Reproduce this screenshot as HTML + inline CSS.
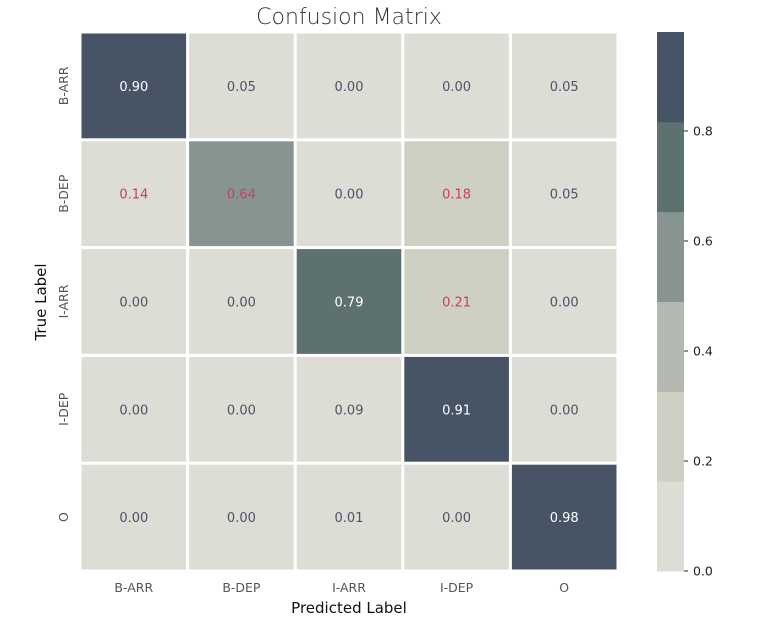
<!DOCTYPE html>
<html><head><meta charset="utf-8"><style>
body{margin:0;background:#fff;font-family:"DejaVu Sans","Liberation Sans",sans-serif}
</style></head><body>
<svg id="chart" width="760" height="632" xmlns="http://www.w3.org/2000/svg"></svg>
<script>
const rowLabels = ["B-ARR","B-DEP","I-ARR","I-DEP","O"];
const colLabels = ["B-ARR","B-DEP","I-ARR","I-DEP","O"];
const values = [
 [0.90,0.05,0.00,0.00,0.05],
 [0.14,0.64,0.00,0.18,0.05],
 [0.00,0.00,0.79,0.21,0.00],
 [0.00,0.00,0.09,0.91,0.00],
 [0.00,0.00,0.01,0.00,0.98]
];
const cbTicks = [0.0,0.2,0.4,0.6,0.8];
const palette = ["#dddcd5","#cfd0c4","#b3b8b0","#879492","#5d716e","#475465"];
const vmin = 0, vmax = 0.98;

const svg = document.getElementById('chart');
const NS = "http://www.w3.org/2000/svg";
function mk(tag, attrs, text){const e=document.createElementNS(NS,tag);for(const k in attrs)e.setAttribute(k,attrs[k]);if(text!==undefined)e.textContent=text;svg.appendChild(e);return e;}
const X0=80,Y0=32,W=538,H=539;
const cw=W/colLabels.length, ch=H/rowLabels.length;
const xPos=i=>X0+i*cw, yPos=i=>Y0+i*ch;
function colorOf(v){let b=Math.floor((v-vmin)/(vmax-vmin)*palette.length);return palette[Math.max(0,Math.min(palette.length-1,b))];}
function textColor(v){if(v>=0.7)return "#ffffff";if(v>=0.1)return "#cc3d66";return "#4a5568";}

const title=mk('text',{x:349,y:24,'text-anchor':'middle','font-size':22,fill:'#333','font-weight':300},"Confusion Matrix");



values.forEach((row,r)=>row.forEach((v,c)=>{
  const rect=mk('rect',{x:xPos(c)+1.5,y:yPos(r)+1.5,width:cw-3,height:ch-3,fill:colorOf(v)});
  
  
  const t=mk('text',{x:xPos(c)+cw/2,y:yPos(r)+ch/2+5,'text-anchor':'middle','font-size':13,fill:textColor(v)},v.toFixed(2));
  
  
}));
colLabels.forEach((l,i)=>{
  const t=mk('text',{x:xPos(i)+cw/2,y:592,'text-anchor':'middle','font-size':12.5,fill:'#555'},l);
  
  
});
rowLabels.forEach((l,i)=>{
  const cy=yPos(i)+ch/2;
  const t=mk('text',{x:0,y:0,transform:`translate(68,${cy}) rotate(-90)`,'text-anchor':'middle','font-size':12.5,fill:'#555'},l);
  
  
});
const xt=mk('text',{x:349,y:613,'text-anchor':'middle','font-size':15,fill:'#111'},"Predicted Label");


const yt=mk('text',{x:0,y:0,transform:'translate(46,302) rotate(-90)','text-anchor':'middle','font-size':15,fill:'#111'},"True Label");



const CX=657,CW=27,CY0=32,CY1=571;
const cbY=v=>CY1-(v-vmin)/(vmax-vmin)*(CY1-CY0);
palette.forEach((c,i)=>{
  const a=vmin+i*(vmax-vmin)/palette.length, b=vmin+(i+1)*(vmax-vmin)/palette.length;
  const r=mk('rect',{x:CX,y:cbY(b),width:CW,height:cbY(a)-cbY(b)+0.5,fill:c});
  
  
});
cbTicks.forEach(v=>{
  const y=cbY(v);
  const l=mk('line',{x1:CX+CW,x2:CX+CW+4,y1:y,y2:y,stroke:'#222','stroke-width':1});
  
  
  const t=mk('text',{x:CX+CW+9,y:y+4.5,'font-size':12.5,fill:'#222'},v.toFixed(1));
  
  
});
</script>
</body></html>
